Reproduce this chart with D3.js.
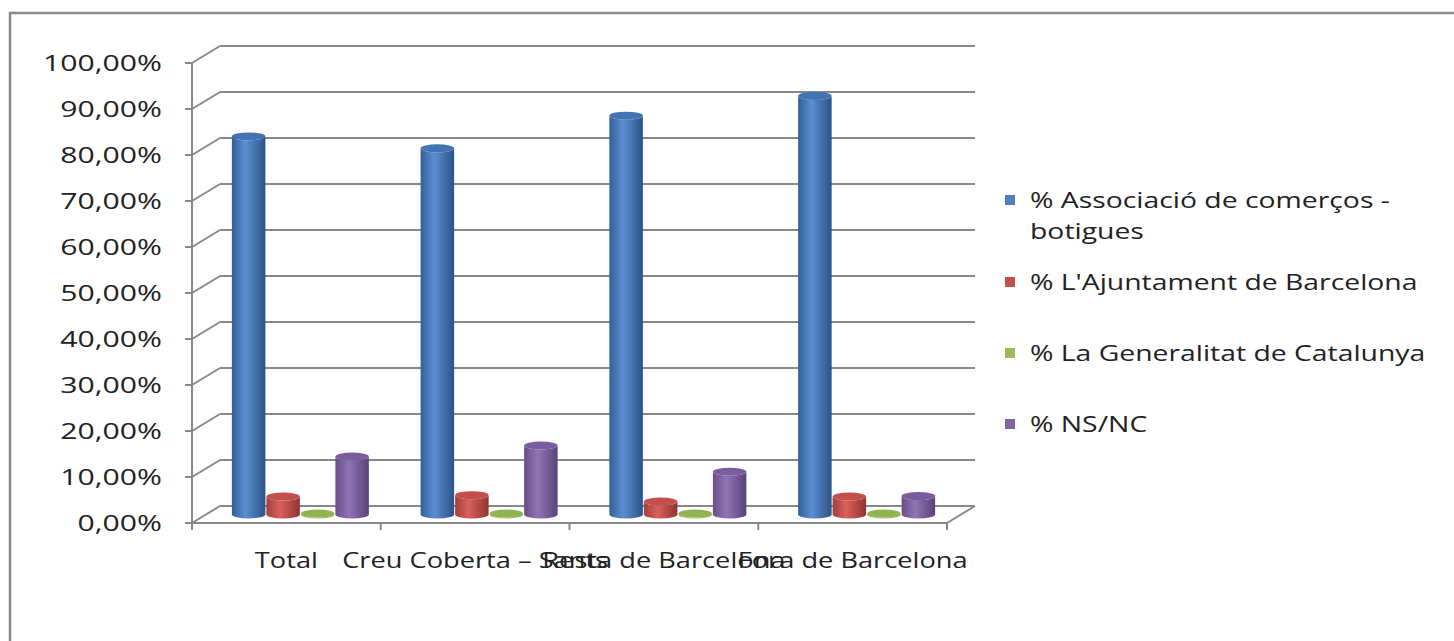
<!DOCTYPE html>
<html>
<head>
<meta charset="utf-8">
<script src="https://cdn.jsdelivr.net/npm/d3@7"></script>
<style>
  html, body { margin: 0; padding: 0; background: #fff; }
  svg { display: block; }
  text { font-family: "Open Sans", "Noto Sans", sans-serif; fill: #222; }
</style>
</head>
<body>
<svg id="chart" width="1454" height="641"></svg>
<script>
// ---- data ----
const categories = ["Total", "Creu Coberta \u2013 Sants", "Resta de Barcelona", "Fora de Barcelona"];
const seriesNames = ["% Associació de comerços - botigues", "% L'Ajuntament de Barcelona", "% La Generalitat de Catalunya", "% NS/NC"];
const legendLines = [["% Associació de comerços -", "botigues"], ["% L'Ajuntament de Barcelona"], ["% La Generalitat de Catalunya"], ["% NS/NC"]];
const associacio = [82.2, 79.6, 86.7, 91.0];
const ajuntament = [3.9, 4.2, 2.8, 3.9];
const generalitat = [0.2, 0.2, 0.2, 0.2];
const nsnc = [12.6, 15.0, 9.3, 4.0];
const yTicks = [0, 10, 20, 30, 40, 50, 60, 70, 80, 90, 100];
const yTickLabels = ["0,00%", "10,00%", "20,00%", "30,00%", "40,00%", "50,00%", "60,00%", "70,00%", "80,00%", "90,00%", "100,00%"];

const seriesValues = [associacio, ajuntament, generalitat, nsnc];
const colors = [
  {edge: "#335f97", light: "#5b8fd2", dark: "#2c5287", top: "#4273b2"},
  {edge: "#a43f3c", light: "#d9605c", dark: "#8f3431", top: "#c24f4b"},
  {edge: "#7f9c45", light: "#a9cb63", dark: "#6f8a3b", top: "#8fb450"},
  {edge: "#684f88", light: "#9173b5", dark: "#5a4478", top: "#7a5da0"}
];
const legendColors = ["#4f81bd", "#c0504d", "#9bbb59", "#8064a2"];

// ---- layout ----
const svg = d3.select("#chart");
const W = 1454, H = 641;
svg.append("rect").attr("width", W).attr("height", H).attr("fill", "#fff");
svg.append("rect").attr("x", 10).attr("y", 13).attr("width", 1470).attr("height", 700)
  .attr("fill", "none").attr("stroke", "#8a8a8a").attr("stroke-width", 2.5);

const depthX = 28, depthY = -17;
const x0 = 192, x1 = 947;
const yFront = d3.scaleLinear().domain([0, 100]).range([523, 63]);
const yBack = v => yFront(v) + depthY;
const yMid = v => yFront(v) + depthY / 2;
const xCat = d3.scaleBand().domain(d3.range(categories.length)).range([x0, x1]).padding(0);
const xSer = d3.scaleBand().domain(d3.range(seriesValues.length)).range([-69, 69]).padding(0);

const grid = "#888888";
const g = svg.append("g");

// back wall gridlines
g.selectAll("line.grid").data(yTicks).join("line").attr("class", "grid")
  .attr("x1", x0 + depthX).attr("x2", x1 + depthX)
  .attr("y1", d => yBack(d)).attr("y2", d => yBack(d))
  .attr("stroke", grid).attr("stroke-width", 2);
// side wall diagonals
g.selectAll("line.diag").data(yTicks).join("line").attr("class", "diag")
  .attr("x1", x0).attr("x2", x0 + depthX)
  .attr("y1", d => yFront(d)).attr("y2", d => yBack(d))
  .attr("stroke", grid).attr("stroke-width", 2);
// front vertical axis
g.append("line").attr("x1", x0).attr("x2", x0).attr("y1", yFront(100)).attr("y2", yFront(0))
  .attr("stroke", grid).attr("stroke-width", 2);
// y ticks
g.selectAll("line.ytick").data(yTicks).join("line").attr("class", "ytick")
  .attr("x1", x0 - 7).attr("x2", x0).attr("y1", d => yFront(d)).attr("y2", d => yFront(d))
  .attr("stroke", grid).attr("stroke-width", 2);
// floor front edge and right edge
g.append("line").attr("x1", x0).attr("x2", x1).attr("y1", yFront(0)).attr("y2", yFront(0))
  .attr("stroke", grid).attr("stroke-width", 2);
g.append("line").attr("x1", x1).attr("x2", x1 + depthX).attr("y1", yFront(0)).attr("y2", yBack(0))
  .attr("stroke", grid).attr("stroke-width", 2);
// category ticks
const catBounds = d3.range(categories.length + 1).map(i => i < categories.length ? xCat(i) : x1);
g.selectAll("line.xtick").data(catBounds).join("line").attr("class", "xtick")
  .attr("x1", d => d).attr("x2", d => d).attr("y1", yFront(0)).attr("y2", yFront(0) + 7)
  .attr("stroke", grid).attr("stroke-width", 2);

// gradients
const defs = svg.append("defs");
colors.forEach((c, i) => {
  const lg = defs.append("linearGradient").attr("id", "cyl" + i).attr("x1", "0").attr("x2", "1").attr("y1", "0").attr("y2", "0");
  lg.append("stop").attr("offset", "0").attr("stop-color", c.edge);
  lg.append("stop").attr("offset", "0.4").attr("stop-color", c.light);
  lg.append("stop").attr("offset", "1").attr("stop-color", c.dark);
});

// bars (cylinders) at mid depth
const rx = xSer.bandwidth() / 2, ry = 4;
const bars = [];
categories.forEach((cat, ci) => {
  seriesValues.forEach((vals, si) => {
    bars.push({ci, si, v: vals[ci]});
  });
});
const barG = svg.append("g");
bars.forEach(b => {
  const cx = xCat(b.ci) + xCat.bandwidth() / 2 + depthX / 2 + xSer(b.si) + rx;
  const yb = yMid(0), yt = yMid(b.v);
  const left = cx - rx + 0.5, right = cx + rx - 0.5;
  const r = rx - 0.5;
  barG.append("path")
    .attr("d", `M${left},${yt} L${left},${yb} A${r},${ry} 0 0 0 ${right},${yb} L${right},${yt} A${r},${ry} 0 0 1 ${left},${yt} Z`)
    .attr("fill", `url(#cyl${b.si})`);
  barG.append("ellipse").attr("cx", cx).attr("cy", yt).attr("rx", r).attr("ry", ry)
    .attr("fill", colors[b.si].top);
});

// text helper with horizontal stretch
const FS = 22.5;
function stretchedText(parent, x, y, str, anchor, sx) {
  return parent.append("text")
    .attr("transform", `translate(${x},${y}) scale(${sx},1)`)
    .attr("text-anchor", anchor)
    .attr("font-size", FS)
    .text(str);
}

// y labels
yTicks.forEach((t, i) => stretchedText(svg, 162, yFront(t) + 8, yTickLabels[i], "end", 1.34));

// x labels
categories.forEach((c, i) => stretchedText(svg, xCat(i) + xCat.bandwidth() / 2, 568, c, "middle", 1.21));

// legend
const legendTop = [200, 282, 353, 424];
legendLines.forEach((lines, i) => {
  svg.append("rect").attr("x", 1005).attr("y", legendTop[i] - 5).attr("width", 10).attr("height", 10)
    .attr("fill", legendColors[i]);
  lines.forEach((ln, j) => stretchedText(svg, 1030, legendTop[i] + 8 + j * 31, ln, "start", 1.26));
});
</script>
</body>
</html>
